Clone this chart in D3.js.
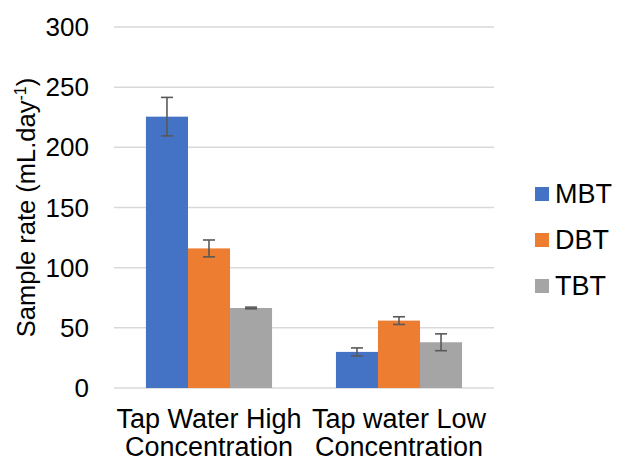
<!DOCTYPE html>
<meta charset="utf-8">
<title>Sample rate</title>
<script src="https://d3js.org/d3.v7.min.js"></script>
<style>
  body { margin: 0; background: #fff; }
  text { font-family: "Liberation Sans", Arial, sans-serif; fill: #000; }
</style>
<body>
<div id="chart"></div>
<script>
  // values
  const categories = [["Tap Water High", "Concentration"], ["Tap water Low", "Concentration"]];
  const series = ["MBT", "DBT", "TBT"];
  const colors = ["#4472C4", "#ED7D31", "#A5A5A5"];
  const values = [
    [225.5, 116, 66.5],
    [30, 56, 38]
  ];
  const errors = [
    [16, 7, 0.7],
    [3.3, 3.2, 7]
  ];
  const yTicks = [0, 50, 100, 150, 200, 250, 300];

  const width = 620, height = 472;
  const margin = {left: 114, right: 126, top: 27, bottom: 84};

  const svg = d3.select("#chart").append("svg")
    .attr("width", width)
    .attr("height", height);

  const x = d3.scaleBand()
    .domain(d3.range(categories.length))
    .range([margin.left, width - margin.right])
    .paddingInner(0)
    .paddingOuter(0);

  const xs = d3.scaleBand()
    .domain(series)
    .range([0, x.bandwidth()])
    .paddingInner(0)
    .paddingOuter(0.76);

  const y = d3.scaleLinear()
    .domain([0, 300])
    .range([height - margin.bottom, margin.top]);

  // gridlines
  svg.append("g")
    .selectAll("line")
    .data(yTicks)
    .join("line")
    .attr("x1", margin.left)
    .attr("x2", width - margin.right)
    .attr("y1", d => y(d))
    .attr("y2", d => y(d))
    .attr("stroke", "#d9d9d9")
    .attr("stroke-width", 1.5);

  // y tick labels
  svg.append("g")
    .selectAll("text")
    .data(yTicks)
    .join("text")
    .attr("x", 89)
    .attr("y", d => y(d))
    .attr("dy", "0.35em")
    .attr("text-anchor", "end")
    .style("font-size", "26px")
    .text(d => d);

  // bars
  const groups = svg.append("g")
    .selectAll("g")
    .data(values)
    .join("g")
    .attr("transform", (d, i) => `translate(${x(i)},0)`);

  groups.selectAll("rect")
    .data(d => d.map((v, j) => ({v, j})))
    .join("rect")
    .attr("x", d => xs(series[d.j]))
    .attr("width", xs.bandwidth())
    .attr("y", d => y(d.v))
    .attr("height", d => y(0) - y(d.v))
    .attr("fill", d => colors[d.j]);

  // error bars
  const eb = groups.selectAll("g.err")
    .data((d, i) => d.map((v, j) => ({v, j, e: errors[i][j]})))
    .join("g")
    .attr("class", "err")
    .attr("stroke", "#595959")
    .attr("stroke-width", 1.6);

  const cx = d => xs(series[d.j]) + xs.bandwidth() / 2;
  eb.append("line")
    .attr("x1", cx).attr("x2", cx)
    .attr("y1", d => y(d.v - d.e)).attr("y2", d => y(d.v + d.e));
  eb.append("line")
    .attr("x1", d => cx(d) - 6).attr("x2", d => cx(d) + 6)
    .attr("y1", d => y(d.v + d.e)).attr("y2", d => y(d.v + d.e));
  eb.append("line")
    .attr("x1", d => cx(d) - 6).attr("x2", d => cx(d) + 6)
    .attr("y1", d => y(d.v - d.e)).attr("y2", d => y(d.v - d.e));

  // category labels
  svg.append("g")
    .selectAll("text")
    .data(categories)
    .join("text")
    .attr("x", (d, i) => x(i) + x.bandwidth() / 2)
    .attr("y", 428)
    .attr("text-anchor", "middle")
    .style("font-size", "27px")
    .selectAll("tspan")
    .data(d => d)
    .join("tspan")
    .attr("x", function() { return this.parentNode.getAttribute("x"); })
    .attr("dy", (d, i) => i ? 28 : 0)
    .text(d => d);

  // y axis title
  const title = svg.append("text")
    .attr("transform", `translate(35,${(y(0) + y(300)) / 2}) rotate(-90)`)
    .attr("text-anchor", "middle")
    .style("font-size", "25.5px");
  title.append("tspan").text("Sample rate (mL.day");
  title.append("tspan").attr("dy", -9).style("font-size", "16px").text("-1");
  title.append("tspan").attr("dy", 9).text(")");

  // legend
  const legend = svg.append("g")
    .selectAll("g")
    .data(series)
    .join("g")
    .attr("transform", (d, i) => `translate(535,${194 + i * 46})`);
  legend.append("rect")
    .attr("x", 0).attr("y", -7)
    .attr("width", 14).attr("height", 14)
    .attr("fill", (d, i) => colors[i]);
  legend.append("text")
    .attr("x", 20)
    .attr("dy", "0.35em")
    .style("font-size", "27px")
    .text(d => d);
</script>
